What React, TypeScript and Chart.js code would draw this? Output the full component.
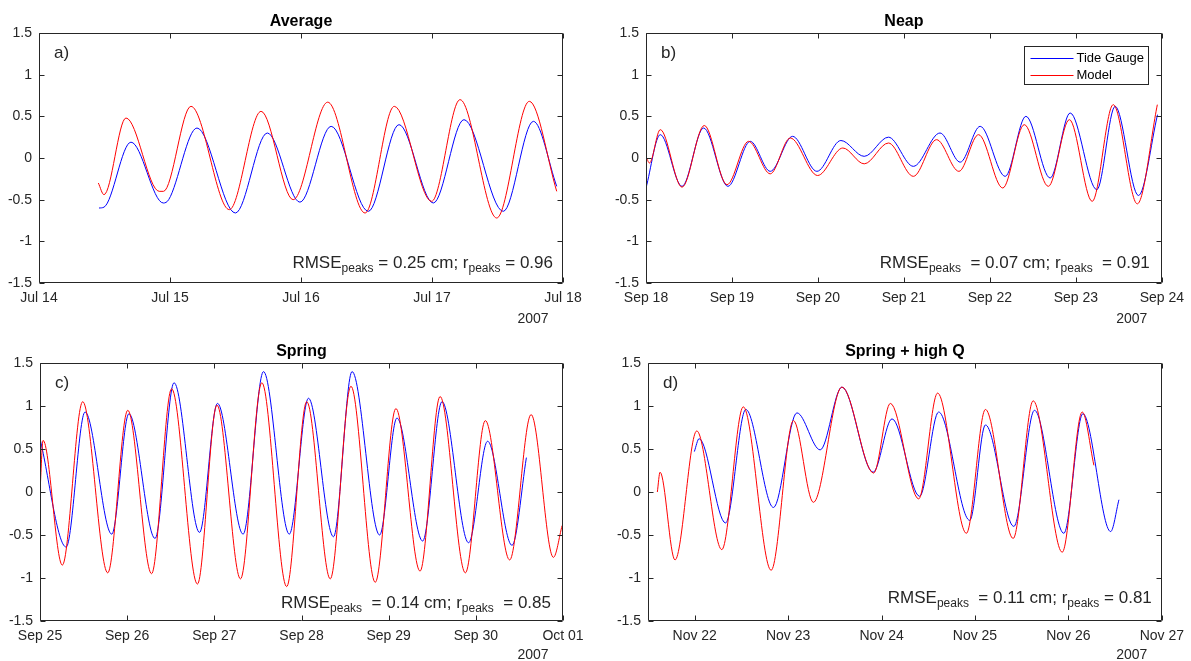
import React, { useEffect, useRef } from "react";
import { Chart, registerables } from "chart.js";

Chart.register(...registerables);

const FONT = '"Liberation Sans", Arial, Helvetica, sans-serif';
const AXIS_COLOR = "#262626";
const GAUGE_COLOR = "#0000ff";
const MODEL_COLOR = "#ff0000";

// ---------- shared y axis ----------
const yTickValues = [-1.5, -1, -0.5, 0, 0.5, 1, 1.5];
const yTickLabels = ["-1.5", "-1", "-0.5", "0", "0.5", "1", "1.5"];

// ---------- panel a: Average (x = days since Jul 14) ----------
const aTitle = "Average";
const aXTicks = [0, 1, 2, 3, 4];
const aXLabels = ["Jul 14", "Jul 15", "Jul 16", "Jul 17", "Jul 18"];
const aGaugeX = [0.458, 0.496, 0.702, 0.949, 0.99, 1.206, 1.499, 1.743, 1.992, 2.23, 2.514, 2.748, 3.01, 3.244, 3.544, 3.774, 3.952];
const aGaugeY = [-0.6, -0.59, 0.19, -0.54, -0.5, 0.36, -0.66, 0.3, -0.53, 0.38, -0.64, 0.4, -0.54, 0.46, -0.64, 0.44, -0.34];
const aModelX = [0.453, 0.496, 0.664, 0.918, 0.95, 1.16, 1.453, 1.695, 1.94, 2.204, 2.489, 2.712, 2.997, 3.214, 3.494, 3.743, 3.952];
const aModelY = [-0.3, -0.44, 0.48, -0.4, -0.4, 0.62, -0.62, 0.56, -0.5, 0.67, -0.66, 0.62, -0.52, 0.7, -0.72, 0.68, -0.4];
const aStats = ["RMSE", "peaks", " = 0.25 cm; r", "peaks", " = 0.96"];

// ---------- panel b: Neap (x = days since Sep 18) ----------
const bTitle = "Neap";
const bXTicks = [0, 1, 2, 3, 4, 5, 6];
const bXLabels = ["Sep 18", "Sep 19", "Sep 20", "Sep 21", "Sep 22", "Sep 23", "Sep 24"];
const bGaugeX = [0, 0.166, 0.419, 0.67, 0.953, 1.213, 1.445, 1.705, 1.988, 2.267, 2.538, 2.82, 3.11, 3.42, 3.655, 3.887, 4.178, 4.419, 4.701, 4.934, 5.244, 5.457, 5.728, 5.95];
const bGaugeY = [-0.36, 0.28, -0.34, 0.36, -0.34, 0.2, -0.16, 0.26, -0.16, 0.21, 0.02, 0.25, -0.1, 0.3, -0.05, 0.38, -0.22, 0.5, -0.24, 0.54, -0.38, 0.62, -0.45, 0.52];
const bModelX = [0, 0.04, 0.166, 0.419, 0.678, 0.942, 1.193, 1.445, 1.678, 1.996, 2.29, 2.538, 2.82, 3.11, 3.38, 3.64, 3.868, 4.15, 4.4, 4.68, 4.925, 5.19, 5.435, 5.715, 5.948];
const bModelY = [0.02, -0.06, 0.34, -0.35, 0.39, -0.32, 0.2, -0.19, 0.24, -0.21, 0.12, -0.07, 0.18, -0.22, 0.22, -0.16, 0.28, -0.36, 0.4, -0.34, 0.46, -0.52, 0.64, -0.55, 0.64];
const bStats = ["RMSE", "peaks", "  = 0.07 cm; r", "peaks", "  = 0.91"];

// ---------- panel c: Spring (x = days since Sep 25) ----------
const cTitle = "Spring";
const cXTicks = [0, 1, 2, 3, 4, 5, 6];
const cXLabels = ["Sep 25", "Sep 26", "Sep 27", "Sep 28", "Sep 29", "Sep 30", "Oct 01"];
const cGaugeX = [0, 0.3, 0.517, 0.823, 1.02, 1.32, 1.538, 1.83, 2.036, 2.33, 2.564, 2.86, 3.08, 3.367, 3.58, 3.896, 4.095, 4.39, 4.612, 4.917, 5.135, 5.415, 5.58];
const cGaugeY = [0.62, -0.64, 0.93, -0.49, 0.91, -0.54, 1.27, -0.47, 1.03, -0.49, 1.4, -0.49, 1.09, -0.52, 1.4, -0.5, 0.86, -0.57, 1.05, -0.59, 0.59, -0.62, 0.4];
const cModelX = [0, 0.035, 0.256, 0.49, 0.777, 1.007, 1.28, 1.51, 1.806, 2.03, 2.3, 2.545, 2.83, 3.06, 3.33, 3.567, 3.846, 4.083, 4.36, 4.59, 4.88, 5.109, 5.388, 5.634, 5.89, 5.99];
const cModelY = [0.0, 0.6, -0.85, 1.05, -0.94, 0.95, -0.95, 1.2, -1.07, 1.01, -1.01, 1.27, -1.1, 1.05, -1.01, 1.23, -1.05, 0.97, -0.92, 1.11, -0.94, 0.83, -0.79, 0.9, -0.76, -0.39];
const cStats = ["RMSE", "peaks", "  = 0.14 cm; r", "peaks", "  = 0.85"];

// ---------- panel d: Spring + high Q (x = days since Nov 21) ----------
const dTitle = "Spring + high Q";
const dXTicks = [1, 2, 3, 4, 5, 6];
const dXLabels = ["Nov 22", "Nov 23", "Nov 24", "Nov 25", "Nov 26", "Nov 27"];
const dGaugeX = [0.996, 1.047, 1.33, 1.547, 1.843, 2.094, 2.343, 2.576, 2.91, 3.112, 3.408, 3.611, 3.944, 4.112, 4.416, 4.637, 4.951, 5.155, 5.452, 5.541];
const dGaugeY = [0.47, 0.62, -0.36, 0.96, -0.18, 0.92, 0.49, 1.22, 0.23, 0.85, -0.05, 0.93, -0.33, 0.78, -0.4, 0.95, -0.48, 0.91, -0.46, -0.09];
const dModelX = [0.6, 0.629, 0.789, 1.022, 1.29, 1.52, 1.818, 2.057, 2.27, 2.576, 2.915, 3.094, 3.397, 3.6, 3.908, 4.112, 4.409, 4.623, 4.934, 5.148, 5.273];
const dModelY = [0.0, 0.23, -0.79, 0.71, -0.67, 0.99, -0.91, 0.83, -0.12, 1.22, 0.22, 1.03, -0.08, 1.15, -0.48, 0.96, -0.54, 1.06, -0.7, 0.93, 0.31];
const dStats = ["RMSE", "peaks", "  = 0.11 cm; r", "peaks", " = 0.81"];

const yearLabel = "2007";
const seriesNames = ["Tide Gauge", "Model"];

type Panel = {
  key: string;
  left: number;
  top: number;
  width: number;
  height: number;
  yAxisWidth: number;
  padRight: number;
  xAxisHeight: number;
  xMin: number;
  xMax: number;
  xTicks: number[];
  xLabels: string[];
  gx: number[];
  gy: number[];
  mx: number[];
  my: number[];
  title: string;
  letter: string;
  stats: string[];
  statsRight: number;
  statsBase: number;
  legend: boolean;
};

const panels: Panel[] = [
  { key: "a", left: 0, top: 0, width: 595, height: 330, yAxisWidth: 39, padRight: 32, xAxisHeight: 47, xMin: 0, xMax: 4, xTicks: aXTicks, xLabels: aXLabels, gx: aGaugeX, gy: aGaugeY, mx: aModelX, my: aModelY, title: aTitle, letter: "a)", stats: aStats, statsRight: 10, statsBase: 15, legend: false },
  { key: "b", left: 595, top: 0, width: 596, height: 330, yAxisWidth: 51, padRight: 29, xAxisHeight: 47, xMin: 0, xMax: 6, xTicks: bXTicks, xLabels: bXLabels, gx: bGaugeX, gy: bGaugeY, mx: bModelX, my: bModelY, title: bTitle, letter: "b)", stats: bStats, statsRight: 12, statsBase: 15, legend: true },
  { key: "c", left: 0, top: 330, width: 595, height: 331, yAxisWidth: 40, padRight: 32, xAxisHeight: 40, xMin: 0, xMax: 6, xTicks: cXTicks, xLabels: cXLabels, gx: cGaugeX, gy: cGaugeY, mx: cModelX, my: cModelY, title: cTitle, letter: "c)", stats: cStats, statsRight: 12, statsBase: 13, legend: false },
  { key: "d", left: 595, top: 330, width: 596, height: 331, yAxisWidth: 53, padRight: 29, xAxisHeight: 40, xMin: 0.5, xMax: 6, xTicks: dXTicks, xLabels: dXLabels, gx: dGaugeX, gy: dGaugeY, mx: dModelX, my: dModelY, title: dTitle, letter: "d)", stats: dStats, statsRight: 10, statsBase: 18, legend: false },
];

function zip(xs: number[], ys: number[]) {
  return xs.map((x, i) => ({ x, y: ys[i] }));
}

function makeDecor(p: Panel) {
  return {
    id: "decor_" + p.key,
    afterDatasetsDraw(chart: any) {
      const ctx = chart.ctx as CanvasRenderingContext2D;
      const { left, top, right, bottom } = chart.chartArea;
      const L = Math.round(left) + 0.5;
      const T = Math.round(top) + 0.5;
      const R = Math.round(right) - 0.5;
      const B = Math.round(bottom) - 0.5;
      ctx.save();
      ctx.strokeStyle = AXIS_COLOR;
      ctx.lineWidth = 1;
      ctx.beginPath();
      ctx.rect(L, T, R - L, B - T);
      const tl = 5;
      const xs = chart.scales.x;
      for (const t of xs.ticks) {
        const px = Math.round(xs.getPixelForValue(t.value)) + 0.5;
        ctx.moveTo(px, B);
        ctx.lineTo(px, B - tl);
        ctx.moveTo(px, T);
        ctx.lineTo(px, T + tl);
      }
      const ys = chart.scales.y;
      for (const t of ys.ticks) {
        const py = Math.round(ys.getPixelForValue(t.value)) + 0.5;
        ctx.moveTo(L, py);
        ctx.lineTo(L + tl, py);
        ctx.moveTo(R, py);
        ctx.lineTo(R - tl, py);
      }
      ctx.stroke();
      ctx.restore();
    },
    afterDraw(chart: any) {
      const ctx = chart.ctx as CanvasRenderingContext2D;
      const { left, top, right, bottom } = chart.chartArea;
      ctx.save();
      // title
      ctx.fillStyle = "#000";
      ctx.font = `bold 16px ${FONT}`;
      ctx.textAlign = "center";
      ctx.textBaseline = "alphabetic";
      ctx.fillText(p.title, (left + right) / 2, top - 7);
      // panel letter
      ctx.fillStyle = AXIS_COLOR;
      ctx.font = `17px ${FONT}`;
      ctx.textAlign = "left";
      ctx.fillText(p.letter, left + 15, top + 25);
      // stats text with subscripts
      const mainFont = `17px ${FONT}`;
      const subFont = `12px ${FONT}`;
      let total = 0;
      const widths = p.stats.map((s, i) => {
        ctx.font = i % 2 === 1 ? subFont : mainFont;
        const w = ctx.measureText(s).width;
        total += w;
        return w;
      });
      let x = right - p.statsRight - total;
      const base = bottom - p.statsBase;
      p.stats.forEach((s, i) => {
        const sub = i % 2 === 1;
        ctx.font = sub ? subFont : mainFont;
        ctx.fillText(s, x, sub ? base + 4 : base);
        x += widths[i];
      });
      // year label
      ctx.font = `14px ${FONT}`;
      ctx.textAlign = "center";
      ctx.textBaseline = "middle";
      ctx.fillText(yearLabel, right - 30, bottom + (p.xAxisHeight > 44 ? 36 : 34));
      // legend
      if (p.legend) {
        const bx = Math.round(right) - 138 + 0.5;
        const by = Math.round(top) + 13 + 0.5;
        const bw = 124;
        const bh = 38;
        ctx.fillStyle = "#fff";
        ctx.fillRect(bx, by, bw, bh);
        ctx.strokeStyle = AXIS_COLOR;
        ctx.lineWidth = 1;
        ctx.strokeRect(bx, by, bw, bh);
        const rows = [
          { y: by + 11, color: GAUGE_COLOR, label: chart.data.datasets[0].label },
          { y: by + 28, color: MODEL_COLOR, label: chart.data.datasets[1].label },
        ];
        ctx.font = `13px ${FONT}`;
        ctx.textAlign = "left";
        ctx.textBaseline = "middle";
        for (const r of rows) {
          ctx.strokeStyle = r.color;
          ctx.beginPath();
          ctx.moveTo(bx + 6, Math.round(r.y) + 0.5);
          ctx.lineTo(bx + 49, Math.round(r.y) + 0.5);
          ctx.stroke();
          ctx.fillStyle = "#000";
          ctx.fillText(r.label, bx + 52, r.y + 1);
        }
      }
      ctx.restore();
    },
  };
}

function PanelChart({ p }: { p: Panel }) {
  const ref = useRef<HTMLCanvasElement | null>(null);
  useEffect(() => {
    if (!ref.current) return;
    const tickFont = { family: FONT, size: 14 };
    const chart = new Chart(ref.current, {
      type: "line",
      data: {
        datasets: [
          {
            label: seriesNames[0],
            data: zip(p.gx, p.gy),
            borderColor: GAUGE_COLOR,
            borderWidth: 1,
            pointRadius: 0,
            fill: false,
            cubicInterpolationMode: "monotone",
            order: 1,
          },
          {
            label: seriesNames[1],
            data: zip(p.mx, p.my),
            borderColor: MODEL_COLOR,
            borderWidth: 1,
            pointRadius: 0,
            fill: false,
            cubicInterpolationMode: "monotone",
            order: 0,
          },
        ],
      },
      options: {
        animation: false,
        responsive: false,
        maintainAspectRatio: false,
        devicePixelRatio: 1,
        events: [],
        layout: { padding: { left: 0, top: 33, right: p.padRight, bottom: 0 } },
        plugins: {
          legend: { display: false },
          tooltip: { enabled: false },
          title: { display: false },
        },
        scales: {
          x: {
            type: "linear",
            min: p.xMin,
            max: p.xMax,
            grid: { display: false, drawTicks: false },
            border: { display: false },
            afterBuildTicks: (s: any) => {
              s.ticks = p.xTicks.map((v) => ({ value: v }));
            },
            afterFit: (s: any) => {
              s.height = p.xAxisHeight;
            },
            ticks: {
              autoSkip: false,
              maxRotation: 0,
              minRotation: 0,
              padding: 7,
              color: AXIS_COLOR,
              font: tickFont,
              callback: (_v: any, i: number) => p.xLabels[i],
            },
          },
          y: {
            type: "linear",
            min: -1.5,
            max: 1.5,
            grid: { display: false, drawTicks: false },
            border: { display: false },
            afterBuildTicks: (s: any) => {
              s.ticks = yTickValues.map((v) => ({ value: v }));
            },
            afterFit: (s: any) => {
              s.width = p.yAxisWidth;
            },
            ticks: {
              padding: 7,
              color: AXIS_COLOR,
              font: tickFont,
              callback: (_v: any, i: number) => yTickLabels[i],
            },
          },
        },
      } as any,
      plugins: [makeDecor(p)],
    });
    return () => chart.destroy();
  }, [p]);
  return (
    <div style={{ position: "absolute", left: p.left, top: p.top, width: p.width, height: p.height }}>
      <canvas ref={ref} width={p.width} height={p.height} style={{ width: p.width, height: p.height, display: "block" }} />
    </div>
  );
}

export default function App() {
  return (
    <div style={{ position: "fixed", left: 0, top: 0, width: 1191, height: 661, background: "#fff", overflow: "hidden" }}>
      {panels.map((p) => (
        <PanelChart key={p.key} p={p} />
      ))}
    </div>
  );
}
